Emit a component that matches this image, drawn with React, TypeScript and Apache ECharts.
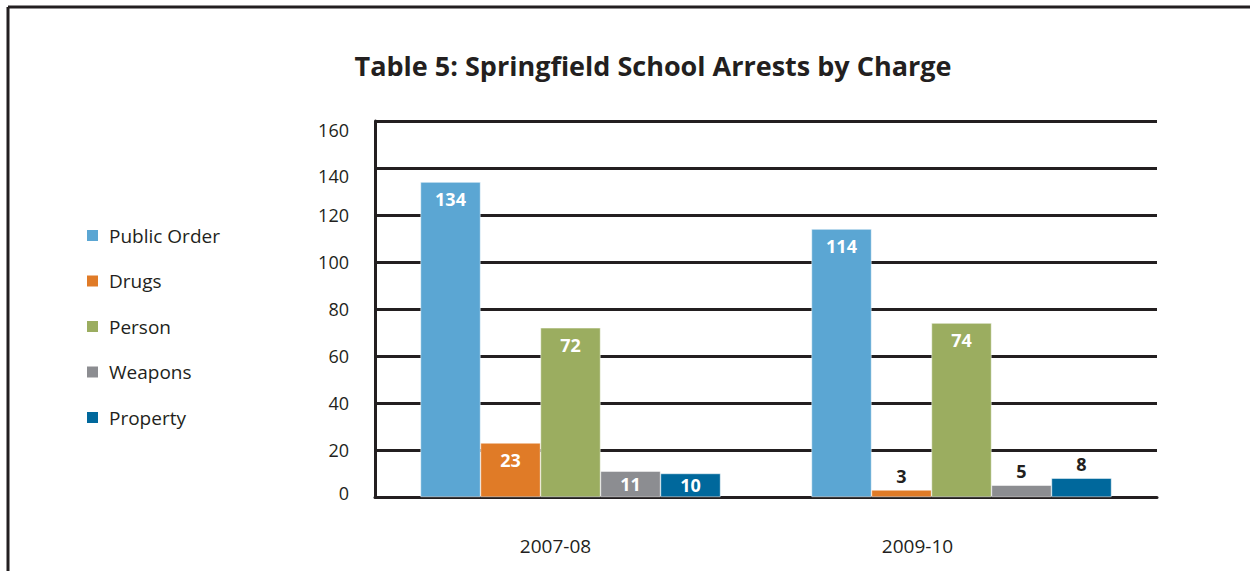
import React, { useEffect, useRef } from "react";
import * as echarts from "echarts";

const categories = ["2007-08", "2009-10"];
const seriesNames = ["Public Order", "Drugs", "Person", "Weapons", "Property"];
const publicOrder = [134, 114];
const drugs = [23, 3];
const person = [72, 74];
const weapons = [11, 5];
const property = [10, 8];
const yTicks = [0, 20, 40, 60, 80, 100, 120, 140, 160];

const colors = ["#5BA6D3", "#E07B27", "#9BAD60", "#8C8D91", "#00689C"];
const FONT = "'Open Sans', 'DejaVu Sans', sans-serif";

function makeData(values: number[]) {
  return values.map((v) => {
    if (v >= 20) {
      return {
        value: v,
        label: { show: true, position: "insideTop", distance: 8, color: "#fff" },
      };
    }
    if (v >= 10) {
      return {
        value: v,
        label: { show: true, position: "inside", color: "#fff" },
      };
    }
    return {
      value: v,
      label: { show: true, position: "top", distance: 5, color: "#231F20" },
    };
  });
}

export default function App() {
  const ref = useRef<HTMLDivElement>(null);
  useEffect(() => {
    document.body.style.margin = "0";
    const chart = echarts.init(ref.current!, null, { renderer: "svg" });
    const allValues = [publicOrder, drugs, person, weapons, property];
    chart.setOption({
      animation: false,
      backgroundColor: "#fff",
      title: {
        text: "Table 5: Springfield School Arrests by Charge",
        left: 648,
        top: 47,
        textAlign: "center",
        textStyle: { fontFamily: FONT, fontWeight: "bold", fontSize: 27, color: "#231F20" },
      },
      graphic: [
        { type: "line", shape: { x1: 8, y1: 7, x2: 1250, y2: 7 }, style: { stroke: "#231F20", lineWidth: 3 } },
        { type: "line", shape: { x1: 8, y1: 7, x2: 8, y2: 571 }, style: { stroke: "#231F20", lineWidth: 3 } },
      ],
      legend: {
        orient: "vertical",
        left: 80,
        top: 218,
        itemGap: 20.5,
        itemWidth: 13,
        itemHeight: 13,
        icon: "rect",
        data: seriesNames,
        textStyle: { fontFamily: FONT, fontSize: 19, color: "#231F20", padding: [0, 0, 0, 5], lineHeight: 25 },
      },
      grid: { left: 375, right: 93, top: 121, bottom: 74 },
      xAxis: {
        type: "category",
        data: categories,
        axisLine: { lineStyle: { color: "#231F20", width: 3 } },
        axisTick: { show: false },
        axisLabel: {
          fontFamily: FONT,
          fontSize: 19,
          color: "#231F20",
          margin: 39,
          formatter: (v: string, i: number) => (i === 0 ? `{a|${v}}` : `{b|${v}}`),
          rich: {
            a: { fontFamily: FONT, fontSize: 19, color: "#231F20", padding: [0, 30, 0, 0] },
            b: { fontFamily: FONT, fontSize: 19, color: "#231F20", padding: [0, 88, 0, 0] },
          },
        },
      },
      yAxis: {
        type: "value",
        min: yTicks[0],
        max: yTicks[yTicks.length - 1],
        interval: 20,
        axisLine: { show: true, lineStyle: { color: "#231F20", width: 3 } },
        axisTick: { show: false },
        axisLabel: {
          fontFamily: FONT,
          fontSize: 18,
          color: "#231F20",
          margin: 26,
          formatter: (v: number) => (v === 160 ? `{t|${v}}` : v === 140 ? `{s|${v}}` : v === 0 ? `{z|${v}}` : `{n|${v}}`),
          rich: {
            t: { fontFamily: FONT, fontSize: 18, color: "#231F20", padding: [18, 0, 0, 0] },
            s: { fontFamily: FONT, fontSize: 18, color: "#231F20", padding: [16, 0, 0, 0] },
            z: { fontFamily: FONT, fontSize: 18, color: "#231F20", padding: [0, 0, 8, 0] },
            n: { fontFamily: FONT, fontSize: 18, color: "#231F20" },
          },
        },
        splitLine: { lineStyle: { color: "#231F20", width: 3 } },
      },
      series: allValues.map((vals, i) => ({
        name: seriesNames[i],
        type: "bar",
        barWidth: 60,
        barGap: "0%",
        itemStyle: { color: colors[i], borderColor: "#fff", borderWidth: 0.5 },
        label: { fontFamily: FONT, fontWeight: "bold", fontSize: 18 },
        data: makeData(vals),
      })),
    });
    return () => chart.dispose();
  }, []);
  return <div ref={ref} style={{ width: 1250, height: 571 }} />;
}
